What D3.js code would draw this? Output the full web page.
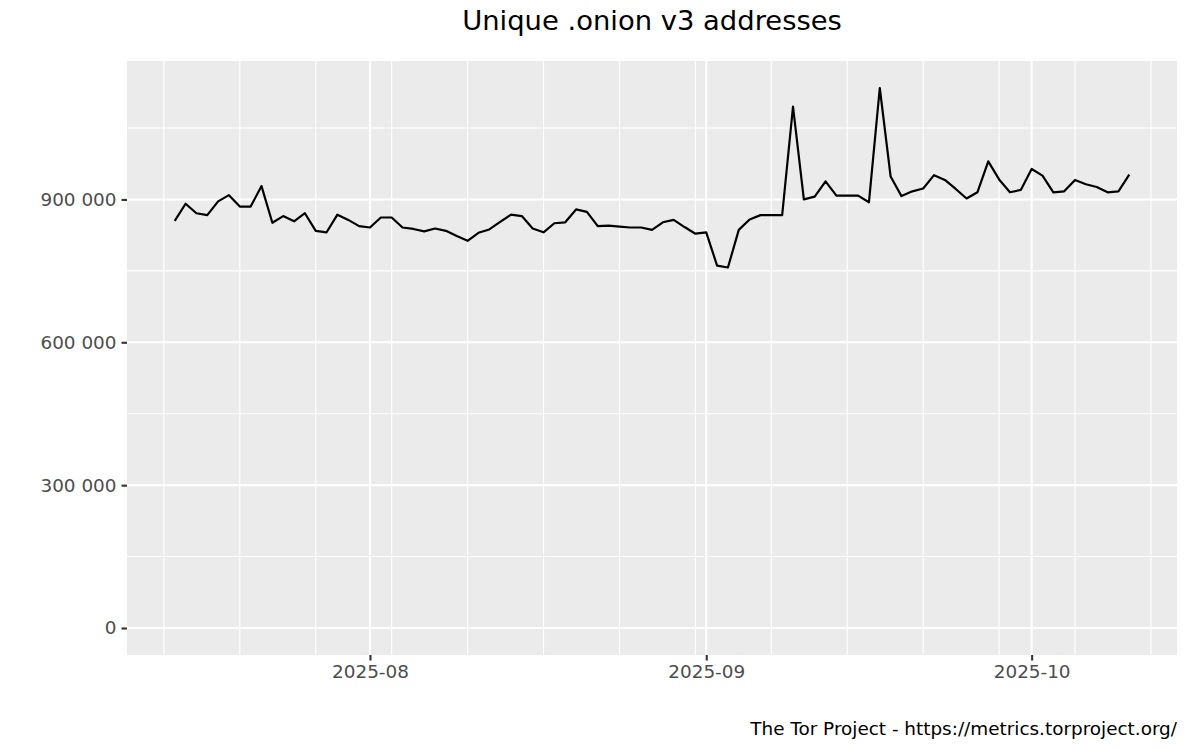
<!DOCTYPE html>
<html>
<head>
<meta charset="utf-8">
<script src="https://cdn.jsdelivr.net/npm/d3@7"></script>
<style>
  html, body { margin: 0; padding: 0; background: #fff; }
  svg { display: block; font-family: "DejaVu Sans", sans-serif; }
</style>
</head>
<body>
<svg id="chart" width="1200" height="750"></svg>
<script>
// ---- Data ----
const startDate = "2025-07-14";
const values = [
  // Jul 14 - Jul 31
  855000, 891000, 871000, 867000, 896000, 909000, 885000, 885000, 928000, 851000,
  865000, 854000, 871000, 834000, 831000, 868000, 857000, 844000,
  // Aug 1 - Aug 31
  841000, 862000, 862000, 841000, 838000, 833000, 839000, 834000, 823000, 813000,
  830000, 837000, 853000, 868000, 865000, 839000, 831000, 850000, 852000, 879000,
  874000, 844000, 845000, 843000, 841000, 841000, 836000, 852000, 857000, 842000,
  828000,
  // Sep 1 - Sep 30
  831000, 761000, 757000, 836000, 858000, 867000, 867000, 867000, 1095000, 900000,
  906000, 938000, 908000, 908000, 908000, 894000, 1134000, 948000, 907000, 917000,
  923000, 951000, 941000, 922000, 902000, 915000, 980000, 942000, 915000, 920000,
  // Oct 1 - Oct 10
  964000, 950000, 915000, 917000, 941000, 932000, 926000, 915000, 917000, 952000
];
const yMajorTicks = [0, 300000, 600000, 900000];
const yMinorTicks = [150000, 450000, 750000, 1050000];
const xMajorTicks = ["2025-08-01", "2025-09-01", "2025-10-01"];
const xMajorLabels = ["2025-08", "2025-09", "2025-10"];
const xMinorStart = "2025-07-13"; // weekly (Sunday) minor grid
const xMinorEnd = "2025-10-12";
const titleText = "Unique .onion v3 addresses";
const captionText = "The Tor Project - https://metrics.torproject.org/";

// ---- Build data ----
const parse = d3.utcParse("%Y-%m-%d");
const t0 = parse(startDate);
const data = values.map((v, i) => ({ date: d3.utcDay.offset(t0, i), value: v }));

// ---- Layout ----
const svg = d3.select("#chart");
const panel = { left: 127, right: 1177, top: 61, bottom: 655 };

const xExt = d3.extent(data, d => d.date);
const span = xExt[1] - xExt[0];
const x = d3.scaleUtc()
  .domain([new Date(+xExt[0] - 0.05 * span), new Date(+xExt[1] + 0.05 * span)])
  .range([panel.left, panel.right]);

const yMax = d3.max(data, d => d.value);
const y = d3.scaleLinear()
  .domain([-0.05 * yMax, yMax * 1.05])
  .range([panel.bottom, panel.top]);

const locale = d3.formatLocale({ decimal: ".", thousands: " ", grouping: [3], currency: ["", ""] });
const fmt = locale.format(",d");

// panel background
svg.append("rect")
  .attr("x", panel.left).attr("y", panel.top)
  .attr("width", panel.right - panel.left).attr("height", panel.bottom - panel.top)
  .attr("fill", "#EBEBEB");

const grid = svg.append("g");
// minor grid
grid.selectAll("line.ymin").data(yMinorTicks).join("line")
  .attr("x1", panel.left).attr("x2", panel.right)
  .attr("y1", d => y(d)).attr("y2", d => y(d))
  .attr("stroke", "#fff").attr("stroke-width", 1.1);
const xMinor = d3.utcWeek.range(parse(xMinorStart), d3.utcDay.offset(parse(xMinorEnd), 1));
grid.selectAll("line.xmin").data(xMinor).join("line")
  .attr("y1", panel.top).attr("y2", panel.bottom)
  .attr("x1", d => x(d)).attr("x2", d => x(d))
  .attr("stroke", "#fff").attr("stroke-width", 1.1);
// major grid
grid.selectAll("line.ymaj").data(yMajorTicks).join("line")
  .attr("x1", panel.left).attr("x2", panel.right)
  .attr("y1", d => y(d)).attr("y2", d => y(d))
  .attr("stroke", "#fff").attr("stroke-width", 2.1);
const xMaj = xMajorTicks.map(parse);
grid.selectAll("line.xmaj").data(xMaj).join("line")
  .attr("y1", panel.top).attr("y2", panel.bottom)
  .attr("x1", d => x(d)).attr("x2", d => x(d))
  .attr("stroke", "#fff").attr("stroke-width", 2.1);

// axes
const yAxis = d3.axisLeft(y).tickValues(yMajorTicks).tickFormat(fmt).tickSize(5.5).tickPadding(5);
const gy = svg.append("g").attr("transform", `translate(${panel.left},0)`).call(yAxis);
gy.select(".domain").remove();
gy.selectAll(".tick line").attr("stroke", "#333").attr("stroke-width", 2.1);
gy.selectAll(".tick text").attr("fill", "#4D4D4D").style("font-size", "18.4px").style("font-family", "DejaVu Sans");

const xAxis = d3.axisBottom(x).tickValues(xMaj).tickFormat((d, i) => xMajorLabels[i]).tickSize(5.5).tickPadding(4);
const gx = svg.append("g").attr("transform", `translate(0,${panel.bottom})`).call(xAxis);
gx.select(".domain").remove();
gx.selectAll(".tick line").attr("stroke", "#333").attr("stroke-width", 2.1);
gx.selectAll(".tick text").attr("fill", "#4D4D4D").style("font-size", "18.4px").style("font-family", "DejaVu Sans");

// line
const line = d3.line().x(d => x(d.date)).y(d => y(d.value));
svg.append("path").datum(data)
  .attr("d", line)
  .attr("fill", "none").attr("stroke", "#000").attr("stroke-width", 2.2)
  .attr("stroke-linejoin", "round").attr("stroke-linecap", "butt");

// title & caption
svg.append("text")
  .attr("x", (panel.left + panel.right) / 2).attr("y", 30)
  .attr("text-anchor", "middle")
  .style("font-size", "27.4px").attr("fill", "#000")
  .text(titleText);
svg.append("text")
  .attr("x", panel.right).attr("y", 735)
  .attr("text-anchor", "end")
  .style("font-size", "18.4px").attr("fill", "#000")
  .text(captionText);
</script>
</body>
</html>
